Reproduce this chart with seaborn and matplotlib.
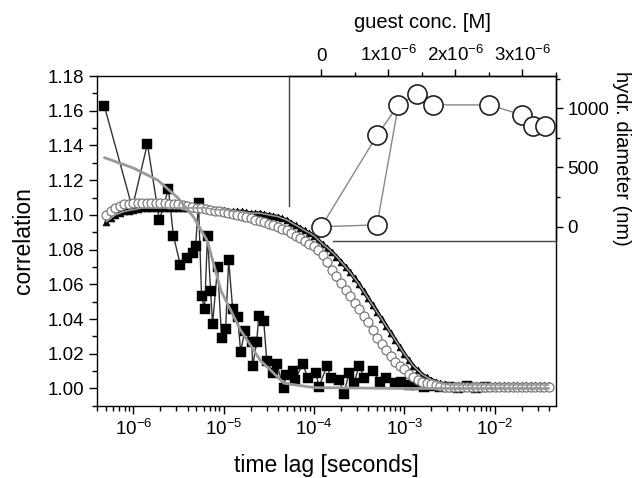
import numpy as np
import pandas as pd
import matplotlib
matplotlib.use("Agg")
import matplotlib.pyplot as plt
import matplotlib.ticker as mticker
import seaborn as sns

# ---------------- data ----------------
# black squares: fast-decaying noisy correlation (log10 of lag time, value)
sq_loglag = [-6.322, -6.011, -5.844, -5.711, -5.611, -5.556, -5.478, -5.40, -5.344, -5.31,
             -5.278, -5.244, -5.211, -5.178, -5.144, -5.122, -5.067, -5.022, -4.978, -4.944,
             -4.90, -4.844, -4.811, -4.767, -4.689, -4.678, -4.633, -4.611, -4.556, -4.522,
             -4.456, -4.411, -4.333, -4.311, -4.233, -4.211, -4.122, -4.067, -3.978, -3.944,
             -3.856, -3.811, -3.722, -3.667, -3.611, -3.556, -3.50, -3.44, -3.344, -3.27,
             -3.20, -3.10, -3.033, -2.95, -2.867, -2.78, -2.70, -2.60, -2.50, -2.40,
             -2.30, -2.20, -2.10]
sq_corr = [1.163, 1.104, 1.141, 1.097, 1.115, 1.088, 1.071, 1.075, 1.078, 1.082,
           1.107, 1.053, 1.046, 1.088, 1.056, 1.037, 1.070, 1.029, 1.034, 1.074,
           1.046, 1.041, 1.021, 1.033, 1.027, 1.013, 1.027, 1.042, 1.039, 1.016,
           1.009, 1.014, 1.000, 1.008, 1.010, 1.005, 1.014, 1.006, 1.009, 1.001,
           1.013, 1.006, 1.005, 0.997, 1.009, 1.003, 1.013, 1.006, 1.010, 1.004,
           1.006, 1.003, 1.0035, 1.002, 1.002, 1.001, 1.0017, 1.001, 1.001, 1.0005,
           1.0015, 1.0005, 1.001]

# gray fit through the squares
sqfit_loglag = [-6.32, -6.0, -5.73, -5.51, -5.33, -5.18, -5.03, -4.81, -4.59, -4.33,
                -4.0, -3.0, -2.0, -1.4]
sqfit_corr = [1.133, 1.127, 1.120, 1.110, 1.0985, 1.085, 1.0564, 1.0334, 1.016, 1.003,
              1.0005, 1.000, 1.000, 1.000]

# common lag grid (log10 s) for triangles and circles
grid_loglag = [-6.30, -6.25, -6.20, -6.15, -6.10, -6.05, -6.00, -5.95, -5.90, -5.85,
               -5.80, -5.75, -5.70, -5.65, -5.60, -5.55, -5.50, -5.45, -5.40, -5.35,
               -5.30, -5.25, -5.20, -5.15, -5.10, -5.05, -5.00, -4.95, -4.90, -4.85,
               -4.80, -4.75, -4.70, -4.65, -4.60, -4.55, -4.50, -4.45, -4.40, -4.35,
               -4.30, -4.25, -4.20, -4.15, -4.10, -4.05, -4.00, -3.95, -3.90, -3.85,
               -3.80, -3.75, -3.70, -3.65, -3.60, -3.55, -3.50, -3.45, -3.40, -3.35,
               -3.30, -3.25, -3.20, -3.15, -3.10, -3.05, -3.00, -2.95, -2.90, -2.85,
               -2.80, -2.75, -2.70, -2.65, -2.60, -2.55, -2.50, -2.45, -2.40, -2.35,
               -2.30, -2.25, -2.20, -2.15, -2.10, -2.05, -2.00, -1.95, -1.90, -1.85,
               -1.80, -1.75, -1.70, -1.65, -1.60, -1.55, -1.50, -1.45, -1.40]
tri_corr = [1.096, 1.098, 1.100, 1.101, 1.102, 1.1025, 1.103, 1.1035, 1.104, 1.104,
            1.104, 1.104, 1.104, 1.104, 1.104, 1.104, 1.104, 1.104, 1.104, 1.104,
            1.104, 1.104, 1.104, 1.1035, 1.103, 1.103, 1.103, 1.1025, 1.102, 1.102,
            1.102, 1.1015, 1.101, 1.101, 1.101, 1.1005, 1.100, 1.0995, 1.099, 1.098,
            1.097, 1.0955, 1.094, 1.0925, 1.091, 1.0895, 1.088, 1.0855, 1.083, 1.081,
            1.0785, 1.076, 1.073, 1.070, 1.067, 1.0635, 1.060, 1.056, 1.052, 1.048,
            1.044, 1.040, 1.036, 1.032, 1.028, 1.024, 1.020, 1.0165, 1.013, 1.0105,
            1.008, 1.0065, 1.005, 1.004, 1.003, 1.0025, 1.002, 1.002, 1.002, 1.002,
            1.002, 1.002, 1.002, 1.002, 1.002, 1.002, 1.002, 1.002, 1.002, 1.002,
            1.002, 1.002, 1.002, 1.002, 1.002, 1.002, 1.002, 1.002, 1.002]
circ_corr = [1.100, 1.102, 1.104, 1.105, 1.106, 1.1065, 1.107, 1.107, 1.107, 1.107,
             1.107, 1.107, 1.107, 1.107, 1.1065, 1.106, 1.106, 1.1055, 1.105, 1.1045,
             1.104, 1.104, 1.1035, 1.103, 1.1025, 1.102, 1.1015, 1.101, 1.1005, 1.100,
             1.0995, 1.099, 1.098, 1.097, 1.0965, 1.096, 1.095, 1.094, 1.093, 1.092,
             1.091, 1.0895, 1.088, 1.0865, 1.085, 1.0835, 1.082, 1.080, 1.077, 1.073,
             1.068, 1.0645, 1.061, 1.057, 1.053, 1.0495, 1.046, 1.042, 1.038, 1.0335,
             1.029, 1.0255, 1.022, 1.0185, 1.015, 1.013, 1.011, 1.0085, 1.0065, 1.005,
             1.004, 1.003, 1.0025, 1.002, 1.0015, 1.001, 1.001, 1.001, 1.001, 1.001,
             1.001, 1.001, 1.001, 1.001, 1.001, 1.001, 1.001, 1.001, 1.001, 1.001,
             1.001, 1.001, 1.001, 1.001, 1.001, 1.001, 1.001, 1.001, 1.001]

# inset: hydrodynamic diameter vs guest concentration
guest_conc = [0.0, 0.83e-6, 0.83e-6, 1.15e-6, 1.43e-6, 1.67e-6, 2.5e-6, 3.0e-6, 3.16e-6, 3.33e-6]
hydr_diam = [0, 770, 15, 1028, 1118, 1028, 1028, 943, 850, 850]
path_main = [2, 0, 1, 3, 4, 5, 6, 7, 8, 9]
path_branch = [2, 3]

inset_xticks = [0, 1e-6, 2e-6, 3e-6]
inset_xticklabels = ["0", r"1x10$^{-6}$", r"2x10$^{-6}$", r"3x10$^{-6}$"]
inset_yticks = [0, 500, 1000]

# ---------------- styling ----------------
sns.set_style("ticks")
plt.rcParams["font.family"] = ["Liberation Sans", "DejaVu Sans"]
plt.rcParams["mathtext.fontset"] = "custom"
plt.rcParams["mathtext.rm"] = "Liberation Sans"
plt.rcParams["mathtext.it"] = "Liberation Sans"
plt.rcParams["axes.linewidth"] = 1.0
for k in ["text.color", "axes.labelcolor", "xtick.color", "ytick.color", "axes.edgecolor"]:
    plt.rcParams[k] = "black"

fig = plt.figure(figsize=(6.34, 4.78), dpi=100)
ax = fig.add_axes([0.153, 0.151, 0.724, 0.690])

sq = pd.DataFrame({"t": 10 ** np.array(sq_loglag), "g": sq_corr})
sqf = pd.DataFrame({"t": 10 ** np.array(sqfit_loglag), "g": sqfit_corr})
tri = pd.DataFrame({"t": 10 ** np.array(grid_loglag), "g": tri_corr})
cir = pd.DataFrame({"t": 10 ** np.array(grid_loglag), "g": circ_corr})

# squares
sns.lineplot(data=sq, x="t", y="g", ax=ax, color="#333333", lw=1.0, sort=False,
             estimator=None, zorder=2)
sns.scatterplot(data=sq, x="t", y="g", ax=ax, marker="s", s=48, color="black",
                edgecolor="black", linewidth=0.3, zorder=3)
# triangles
sns.lineplot(data=tri, x="t", y="g", ax=ax, color="black", lw=2.6, sort=False,
             estimator=None, zorder=3)
sns.scatterplot(data=tri, x="t", y="g", ax=ax, marker="^", s=24, color="black",
                edgecolor="black", linewidth=0.5, zorder=3)
# circles with gray fit lines
sns.lineplot(data=cir, x="t", y="g", ax=ax, color="#aaaaaa", lw=1.5, sort=False,
             estimator=None, zorder=4)
sns.scatterplot(data=cir, x="t", y="g", ax=ax, marker="o", s=42, color="white",
                edgecolor="#7a7a7a", linewidth=0.9, zorder=5)
sns.lineplot(data=tri, x="t", y="g", ax=ax, color="#999999", lw=1.2, sort=False,
             estimator=None, zorder=6)
sns.lineplot(data=sqf, x="t", y="g", ax=ax, color="#999999", lw=2.0, sort=False,
             estimator=None, zorder=6)

ax.set_xscale("log")
ax.set_xlim(10 ** -6.402, 10 ** -1.319)
ax.set_ylim(0.99, 1.18)
ax.yaxis.set_major_locator(mticker.MultipleLocator(0.02))
ax.yaxis.set_minor_locator(mticker.MultipleLocator(0.01))
ax.yaxis.set_major_formatter(mticker.FormatStrFormatter("%.2f"))
ax.xaxis.set_major_locator(mticker.LogLocator(base=10, numticks=15))
ax.xaxis.set_minor_locator(mticker.LogLocator(base=10, subs=np.arange(2, 10), numticks=15))
ax.xaxis.set_minor_formatter(mticker.NullFormatter())
ax.tick_params(which="major", direction="out", length=6, width=1, labelsize=13.5,
               top=False, right=False)
ax.tick_params(which="minor", direction="out", length=3.5, width=1, top=False, right=False)
ax.set_xlabel("time lag [seconds]", fontsize=16.5, labelpad=11)
ax.set_ylabel("correlation", fontsize=16.5, labelpad=9)
for s in ax.spines.values():
    s.set_visible(True)
    s.set_color("black")
    s.set_linewidth(1.0)

# ---------------- inset ----------------
ins = fig.add_axes([0.456, 0.496, 0.421, 0.345])
ins.set_facecolor("none")
pm = pd.DataFrame({"c": [guest_conc[i] for i in path_main], "d": [hydr_diam[i] for i in path_main]})
pb = pd.DataFrame({"c": [guest_conc[i] for i in path_branch], "d": [hydr_diam[i] for i in path_branch]})
pts = pd.DataFrame({"c": guest_conc, "d": hydr_diam})
sns.lineplot(data=pm, x="c", y="d", ax=ins, color="#888888", lw=1.0, sort=False, estimator=None)
sns.lineplot(data=pb, x="c", y="d", ax=ins, color="#888888", lw=1.0, sort=False, estimator=None)
sns.scatterplot(data=pts, x="c", y="d", ax=ins, marker="o", s=190, color="white",
                edgecolor="#222222", linewidth=1.2, zorder=5, clip_on=False)
ins.set_xlim(-0.48e-6, 3.5e-6)
ins.set_ylim(-120, 1272)
ins.xaxis.tick_top()
ins.xaxis.set_label_position("top")
ins.yaxis.tick_right()
ins.yaxis.set_label_position("right")
ins.set_xticks(inset_xticks)
ins.set_xticklabels(inset_xticklabels)
ins.xaxis.set_minor_locator(mticker.FixedLocator([0.5e-6, 1.5e-6, 2.5e-6, 3.5e-6]))
ins.set_yticks(inset_yticks)
ins.yaxis.set_minor_locator(mticker.FixedLocator([250, 750, 1250]))
ins.tick_params(which="major", direction="out", length=5, width=1, labelsize=13.5,
                bottom=False, left=False, top=True, right=True, pad=3)
ins.tick_params(which="minor", direction="out", length=3, width=1,
                bottom=False, left=False, top=True, right=True)
ins.set_xlabel("guest conc. [M]", fontsize=14.5, labelpad=12)
ins.set_ylabel("hydr. diameter (nm)", fontsize=14.5, rotation=-90, labelpad=16)
ins.spines["left"].set_bounds(175, 1272)
ins.spines["bottom"].set_bounds(0.18e-6, 3.5e-6)
for s in ins.spines.values():
    s.set_color("black")
    s.set_linewidth(1.0)
ins.spines["left"].set_color("#444444")
ins.spines["bottom"].set_color("#444444")

fig.savefig("out.png", dpi=100)
